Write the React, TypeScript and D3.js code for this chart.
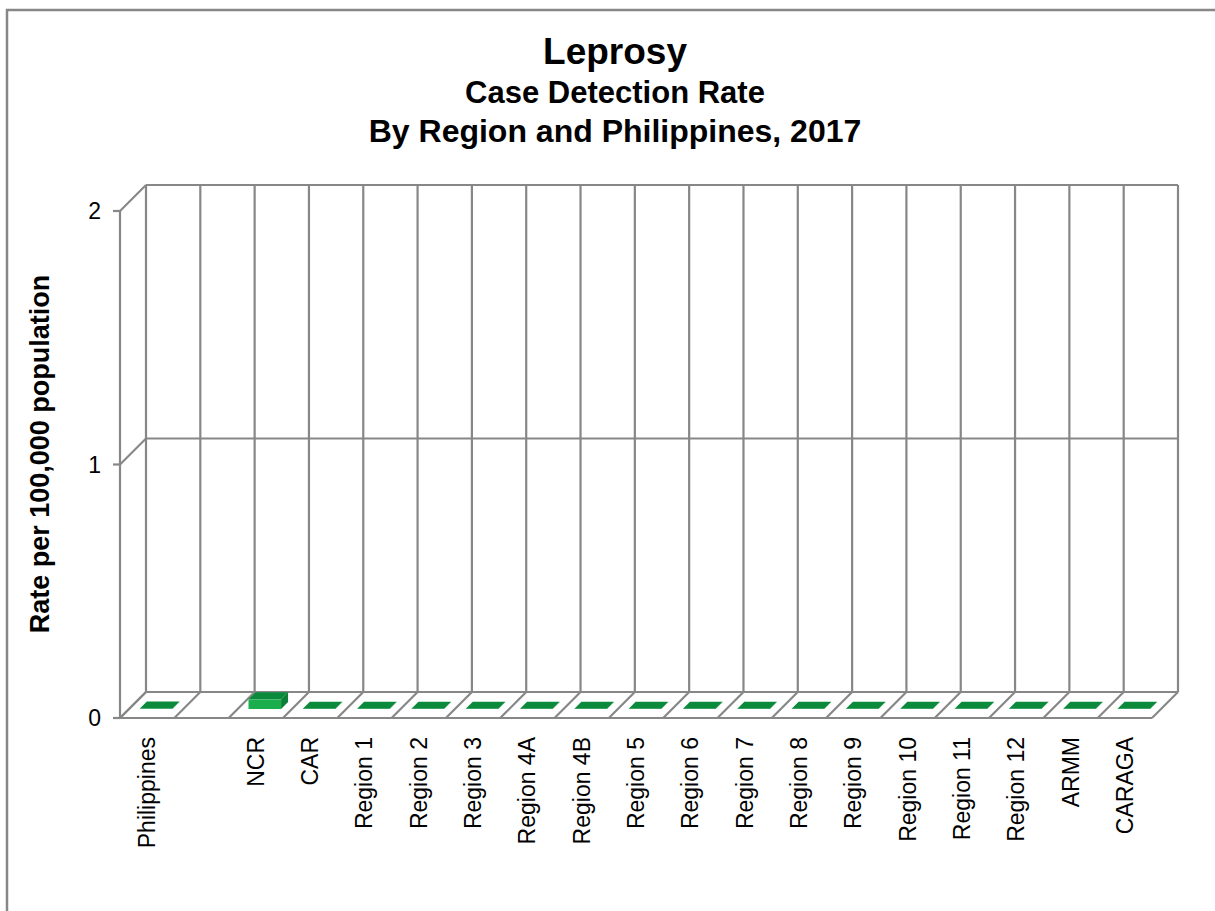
import * as d3 from "d3";
import React from "react";

const categories = [
  "Philippines",
  "",
  "NCR",
  "CAR",
  "Region 1",
  "Region 2",
  "Region 3",
  "Region 4A",
  "Region 4B",
  "Region 5",
  "Region 6",
  "Region 7",
  "Region 8",
  "Region 9",
  "Region 10",
  "Region 11",
  "Region 12",
  "ARMM",
  "CARAGA",
];

// rate per 100,000 population (blank slot has no bar)
const rates: Array<number | null> = [
  0.002, null, 0.038, 0.001, 0.001, 0.001, 0.001, 0.001, 0.001, 0.001,
  0.001, 0.001, 0.001, 0.001, 0.001, 0.001, 0.001, 0.001, 0.001,
];

const yTicks = [0, 1, 2];

const titleLines = ["Leprosy", "Case Detection Rate", "By Region and Philippines, 2017"];
const yTitle = "Rate per 100,000 population";

export default function App() {
  const width = 1215;
  const height = 911;
  const svgRef = React.useRef<SVGSVGElement | null>(null);

  React.useEffect(() => {
    const svg = d3.select(svgRef.current);
    svg.selectAll("*").remove();

    const depth = 26;
    const front = { left: 120, right: 1152, bottom: 718, top: 211 };
    const grid = "#878787";
    const font = "'Liberation Sans', Arial, sans-serif";

    const x = d3
      .scaleBand<number>()
      .domain(d3.range(categories.length))
      .range([front.left, front.right]);

    const y = d3.scaleLinear().domain([0, 2]).range([front.bottom, front.top]);

    // outer frame
    svg
      .append("rect")
      .attr("x", 7)
      .attr("y", 10)
      .attr("width", 1300)
      .attr("height", 1000)
      .attr("fill", "white")
      .attr("stroke", grid)
      .attr("stroke-width", 2.5);

    const g = svg
      .append("g")
      .attr("fill", "none")
      .attr("stroke", grid)
      .attr("stroke-width", 2.2);

    yTicks.forEach((t) => {
      // back wall gridline
      g.append("line")
        .attr("x1", front.left + depth)
        .attr("x2", front.right + depth)
        .attr("y1", y(t) - depth)
        .attr("y2", y(t) - depth);
      // side wall diagonal
      g.append("line")
        .attr("x1", front.left)
        .attr("y1", y(t))
        .attr("x2", front.left + depth)
        .attr("y2", y(t) - depth);
      // tick mark
      g.append("line")
        .attr("x1", front.left - 7)
        .attr("x2", front.left)
        .attr("y1", y(t))
        .attr("y2", y(t));
    });

    const bounds = d3
      .range(categories.length + 1)
      .map((i) => front.left + i * x.bandwidth());

    bounds.forEach((bx) => {
      g.append("line")
        .attr("x1", bx + depth)
        .attr("x2", bx + depth)
        .attr("y1", y(0) - depth)
        .attr("y2", y(2) - depth);
      g.append("line")
        .attr("x1", bx)
        .attr("y1", y(0))
        .attr("x2", bx + depth)
        .attr("y2", y(0) - depth);
    });

    // floor front edge + value axis
    g.append("line")
      .attr("x1", front.left)
      .attr("x2", front.right)
      .attr("y1", y(0))
      .attr("y2", y(0));
    g.append("line")
      .attr("x1", front.left)
      .attr("x2", front.left)
      .attr("y1", y(0))
      .attr("y2", y(2));

    // 3D bars
    const s1 = 9;
    const s2 = 16;
    const ds = s2 - s1;
    const bw = x.bandwidth() * 0.6;
    const bars = svg.append("g");
    rates.forEach((v, i) => {
      if (v === null) return;
      const x0 = (x(i) ?? 0) + x.bandwidth() * 0.2 + s1;
      const yb = y(0) - s1;
      const yt = y(v) - s1;
      bars
        .append("rect")
        .attr("x", x0)
        .attr("y", yt)
        .attr("width", bw)
        .attr("height", yb - yt)
        .attr("fill", "#1aaf4c");
      bars
        .append("polygon")
        .attr(
          "points",
          [
            [x0 + bw, yb],
            [x0 + bw + ds, yb - ds],
            [x0 + bw + ds, yt - ds],
            [x0 + bw, yt],
          ].join(" ")
        )
        .attr("fill", "#0d7f36");
      bars
        .append("polygon")
        .attr(
          "points",
          [
            [x0, yt],
            [x0 + bw, yt],
            [x0 + bw + ds, yt - ds],
            [x0 + ds, yt - ds],
          ].join(" ")
        )
        .attr("fill", "#0b8a3c");
    });

    // tick labels
    svg
      .append("g")
      .selectAll("text")
      .data(yTicks)
      .join("text")
      .attr("x", front.left - 19)
      .attr("y", (d) => y(d))
      .attr("dy", "0.35em")
      .attr("text-anchor", "end")
      .attr("font-family", font)
      .attr("font-size", 23)
      .text((d) => d);

    // category labels
    svg
      .append("g")
      .selectAll("text")
      .data(categories)
      .join("text")
      .attr(
        "transform",
        (_d, i) => `translate(${(x(i) ?? 0) + x.bandwidth() / 2},737) rotate(-90)`
      )
      .attr("dy", "0.35em")
      .attr("text-anchor", "end")
      .attr("font-family", font)
      .attr("font-size", 23)
      .text((d) => d);

    // axis title
    svg
      .append("text")
      .attr("transform", "translate(40,454) rotate(-90)")
      .attr("dy", "0.35em")
      .attr("text-anchor", "middle")
      .attr("font-family", font)
      .attr("font-weight", "bold")
      .attr("font-size", 27)
      .text(yTitle);

    // chart title
    const titleY = [64, 103, 142];
    const titleSize = [37, 31, 32];
    titleLines.forEach((t, i) => {
      svg
        .append("text")
        .attr("x", 615)
        .attr("y", titleY[i])
        .attr("text-anchor", "middle")
        .attr("font-family", font)
        .attr("font-weight", "bold")
        .attr("font-size", titleSize[i])
        .text(t);
    });
  }, []);

  return (
    <svg
      ref={svgRef}
      width={width}
      height={height}
      viewBox={`0 0 ${width} ${height}`}
      style={{ position: "absolute", left: 0, top: 0, background: "white" }}
    ></svg>
  );
}
